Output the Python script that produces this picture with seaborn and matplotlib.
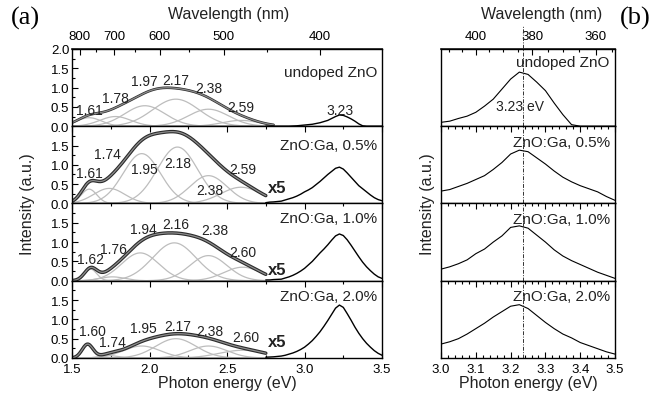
import numpy as np
import matplotlib
matplotlib.use("Agg")
import matplotlib.pyplot as plt
from matplotlib.ticker import MultipleLocator, FixedLocator, FormatStrFormatter
import seaborn as sns

sns.set_theme(style="ticks")
plt.rcParams['font.family'] = ['Liberation Sans', 'DejaVu Sans']

samples = ["undoped ZnO", "ZnO:Ga, 0.5%", "ZnO:Ga, 1.0%", "ZnO:Ga, 2.0%"]

# visible band: gaussian components (centre eV, height, sigma eV)
vis_centres = [
    [1.61, 1.78, 1.97, 2.17, 2.38, 2.59],
    [1.61, 1.74, 1.95, 2.18, 2.38, 2.59],
    [1.62, 1.76, 1.94, 2.16, 2.38, 2.60],
    [1.60, 1.74, 1.95, 2.17, 2.38, 2.60],
]
vis_heights = [
    [0.22, 0.25, 0.53, 0.70, 0.44, 0.15],
    [0.37, 0.39, 1.29, 1.46, 0.72, 0.42],
    [0.30, 0.10, 0.72, 0.98, 0.65, 0.35],
    [0.35, 0.06, 0.31, 0.50, 0.31, 0.20],
]
vis_sigmas = [
    [0.08, 0.10, 0.13, 0.15, 0.13, 0.12],
    [0.05, 0.10, 0.12, 0.13, 0.12, 0.13],
    [0.04, 0.08, 0.12, 0.14, 0.12, 0.12],
    [0.035, 0.06, 0.12, 0.13, 0.12, 0.15],
]
# where the peak energy labels sit (eV, intensity)
peak_label_pos = [
    [(1.61, 0.42), (1.78, 0.73), (1.97, 1.16), (2.17, 1.20), (2.38, 1.00), (2.59, 0.50)],
    [(1.615, 0.80), (1.73, 1.28), (1.97, 0.90), (2.18, 1.05), (2.39, 0.36), (2.60, 0.90)],
    [(1.62, 0.57), (1.765, 0.83), (1.96, 1.35), (2.17, 1.48), (2.42, 1.30), (2.60, 0.75)],
    [(1.63, 0.70), (1.76, 0.42), (1.96, 0.78), (2.18, 0.83), (2.39, 0.70), (2.62, 0.55)],
]
sample_label_y = [1.40, 1.51, 1.63, 1.60]
x5_label_y = [None, 0.41, 0.30, 0.42]

# UV band exciton emission, left panel (a.u.), 2.75 .. 3.5 eV every 0.025 eV
uv_energy = np.linspace(2.75, 3.5, 31)
uv_left = [
    [0, 0, 0, 0, 0, 0, 0, 0.005, 0.01, 0.02, 0.03, 0.04, 0.05, 0.07, 0.09, 0.12,
     0.15, 0.20, 0.25, 0.29, 0.28, 0.24, 0.19, 0.13, 0.06, 0.01, 0, 0, 0, 0, 0],
    [0.02, 0.035, 0.04, 0.05, 0.06, 0.09, 0.12, 0.15, 0.19, 0.24, 0.30, 0.35, 0.41, 0.49, 0.57, 0.66,
     0.75, 0.83, 0.91, 0.94, 0.89, 0.79, 0.68, 0.57, 0.46, 0.38, 0.30, 0.22, 0.15, 0.10, 0.07],
    [0.02, 0.02, 0.03, 0.035, 0.04, 0.07, 0.10, 0.14, 0.19, 0.25, 0.32, 0.41, 0.50, 0.61, 0.72, 0.82,
     0.93, 1.05, 1.16, 1.21, 1.17, 1.06, 0.92, 0.77, 0.62, 0.48, 0.36, 0.26, 0.17, 0.10, 0.06],
    [0.02, 0.025, 0.03, 0.04, 0.05, 0.07, 0.10, 0.13, 0.17, 0.22, 0.28, 0.36, 0.45, 0.56, 0.68, 0.82,
     0.97, 1.13, 1.29, 1.37, 1.31, 1.15, 0.98, 0.80, 0.64, 0.50, 0.38, 0.28, 0.19, 0.12, 0.07],
]

# panel (b): higher resolution UV spectra, 3.0 .. 3.5 eV every 0.025 eV
uv_energy_b = np.linspace(3.0, 3.5, 21)
uv_right = [
    [0.05, 0.065, 0.10, 0.13, 0.18, 0.26, 0.35, 0.48, 0.61, 0.70, 0.67,
     0.57, 0.46, 0.30, 0.15, 0.02, 0, 0, 0, 0, 0],
    [0.16, 0.18, 0.22, 0.26, 0.31, 0.36, 0.44, 0.53, 0.64, 0.69, 0.67,
     0.59, 0.51, 0.42, 0.34, 0.28, 0.23, 0.19, 0.15, 0.09, 0.04],
    [0.15, 0.18, 0.22, 0.27, 0.35, 0.41, 0.50, 0.58, 0.69, 0.71, 0.68,
     0.59, 0.50, 0.40, 0.32, 0.26, 0.21, 0.16, 0.11, 0.07, 0.03],
    [0.18, 0.21, 0.25, 0.31, 0.38, 0.45, 0.53, 0.60, 0.67, 0.69, 0.64,
     0.55, 0.46, 0.38, 0.31, 0.26, 0.20, 0.16, 0.12, 0.08, 0.05],
]
exciton_ev = 3.235


def ev_nm(x):
    x = np.asarray(x, dtype=float)
    out = np.full_like(x, 1e6)
    ok = np.abs(x) > 1e-6
    out[ok] = 1239.84 / x[ok]
    return out


fig = plt.figure(figsize=(6.65, 4.02), dpi=100)
h = 0.1922
y0 = 0.107
tick_kw = dict(direction='in', colors='black', labelsize=9.5, width=0.8)
txt = '#222222'

# ---------------- panel (a) ----------------
for i in range(4):
    ax = fig.add_axes([0.1083, y0 + (3 - i) * h, 0.4662, h])
    ax.set_facecolor('white')
    e_end = 2.8 if i == 0 else 2.75
    e = np.linspace(1.5, e_end, 260)
    total = np.zeros_like(e)
    for c, a, s in zip(vis_centres[i], vis_heights[i], vis_sigmas[i]):
        comp = a * np.exp(-(e - c) ** 2 / (2 * s ** 2))
        total += comp
        sns.lineplot(x=e, y=comp, ax=ax, color='#bdbdbd', linewidth=0.9)
    sns.lineplot(x=e, y=total, ax=ax, color='#2a2a2a', linewidth=1.9 if i == 0 else 2.5)
    sns.lineplot(x=e, y=total, ax=ax, color='#8d8d8d', linewidth=0.9)
    sns.lineplot(x=uv_energy, y=uv_left[i], ax=ax, color='black', linewidth=1.0)

    for c, (lx, ly) in zip(vis_centres[i], peak_label_pos[i]):
        ax.text(lx, ly, f"{c:.2f}", ha='center', va='center', fontsize=10, color=txt)
    if i == 0:
        ax.text(3.23, 0.42, "3.23", ha='center', va='center', fontsize=10, color=txt)
    else:
        ax.text(2.765, x5_label_y[i], "x5", ha='left', va='center', fontsize=12,
                fontweight='bold', color=txt)
    ax.text(3.47, sample_label_y[i], samples[i], ha='right', va='center', fontsize=11,
            color=txt)

    ax.set_xlim(1.5, 3.5)
    ax.set_ylim(0, 2.0)
    ax.set_xlabel('')
    ax.set_ylabel('')
    ax.set_yticks([0, 0.5, 1.0, 1.5, 2.0] if i == 0 else [0, 0.5, 1.0, 1.5])
    ax.yaxis.set_major_formatter(FormatStrFormatter('%.1f'))
    ax.yaxis.set_minor_locator(MultipleLocator(0.25))
    ax.xaxis.set_major_locator(MultipleLocator(0.5))
    ax.xaxis.set_minor_locator(MultipleLocator(0.25))
    ax.xaxis.set_major_formatter(FormatStrFormatter('%.1f'))
    ax.tick_params(which='both', **tick_kw)
    ax.tick_params(which='major', length=4)
    ax.tick_params(which='minor', length=2)
    ax.tick_params(axis='x', which='both', top=(i > 0), bottom=(i == 3),
                   labelbottom=(i == 3))
    ax.tick_params(axis='y', which='both', right=False, pad=2)
    for sp in ax.spines.values():
        sp.set_visible(True)
        sp.set_color('black')
        sp.set_linewidth(1.0)
    if i == 0:
        sec = ax.secondary_xaxis('top', functions=(ev_nm, ev_nm))
        sec.xaxis.set_major_locator(FixedLocator([800, 700, 600, 500, 400]))
        sec.xaxis.set_minor_locator(FixedLocator([750, 650, 550, 450]))
        sec.tick_params(which='both', **tick_kw)
        sec.tick_params(which='major', length=4, pad=5)
        sec.tick_params(which='minor', length=2)
    if i == 3:
        ax.set_xlabel("Photon energy (eV)", fontsize=11.5, labelpad=0, color=txt)

# ---------------- panel (b) ----------------
for i in range(4):
    ax = fig.add_axes([0.6632, y0 + (3 - i) * h, 0.2617, h])
    ax.set_facecolor('white')
    sns.lineplot(x=uv_energy_b, y=uv_right[i], ax=ax, color='black', linewidth=0.8)
    ax.axvline(exciton_ev, ymin=0, ymax=1.30 if i == 0 else 1.0, clip_on=(i != 0),
               color='#333333', linewidth=0.7, linestyle=(0, (4, 1.5, 1, 1.5)))
    ax.text(3.485, 0.83 if i == 0 else 0.80, samples[i], ha='right', va='center',
            fontsize=11, color=txt)
    if i == 0:
        ax.text(3.227, 0.26, "3.23 eV", ha='center', va='center', fontsize=10,
                color=txt)
    ax.set_xlim(3.0, 3.5)
    ax.set_ylim(0, 1.0)
    ax.set_xlabel('')
    ax.set_ylabel('')
    ax.set_yticks([])
    ax.xaxis.set_major_locator(MultipleLocator(0.1))
    ax.xaxis.set_minor_locator(MultipleLocator(0.02))
    ax.xaxis.set_major_formatter(FormatStrFormatter('%.1f'))
    ax.tick_params(which='both', **tick_kw)
    ax.tick_params(which='major', length=4)
    ax.tick_params(which='minor', length=2)
    ax.tick_params(axis='x', which='both', top=(i > 0), bottom=(i == 3),
                   labelbottom=(i == 3))
    for sp in ax.spines.values():
        sp.set_visible(True)
        sp.set_color('black')
        sp.set_linewidth(1.0)
    if i == 0:
        sec = ax.secondary_xaxis('top', functions=(ev_nm, ev_nm))
        sec.xaxis.set_major_locator(FixedLocator([400, 380, 360]))
        sec.xaxis.set_minor_locator(FixedLocator([410, 405, 395, 390, 385, 375, 370, 365, 355]))
        sec.tick_params(which='both', **tick_kw)
        sec.tick_params(which='major', length=4, pad=5)
        sec.tick_params(which='minor', length=2)
    if i == 3:
        ax.set_xlabel("Photon energy (eV)", fontsize=11.5, labelpad=0, color=txt)

fig.text(229 / 665, 1 - 15 / 402, "Wavelength (nm)", ha='center', va='center',
         fontsize=11.5, color=txt)
fig.text(542 / 665, 1 - 15 / 402, "Wavelength (nm)", ha='center', va='center',
         fontsize=11.5, color=txt)
fig.text(0.042, 0.491, "Intensity (a.u.)", rotation=90, ha='center', va='center',
         fontsize=11.5, color=txt)
fig.text(0.643, 0.491, "Intensity (a.u.)", rotation=90, ha='center', va='center',
         fontsize=11.5, color=txt)
fig.text(0.038, 0.955, "(a)", family='Liberation Serif', fontsize=19, ha='center',
         va='center', color='black')
fig.text(0.955, 0.955, "(b)", family='Liberation Serif', fontsize=19, ha='center',
         va='center', color='black')

fig.savefig("out.png", dpi=100, facecolor='white')
